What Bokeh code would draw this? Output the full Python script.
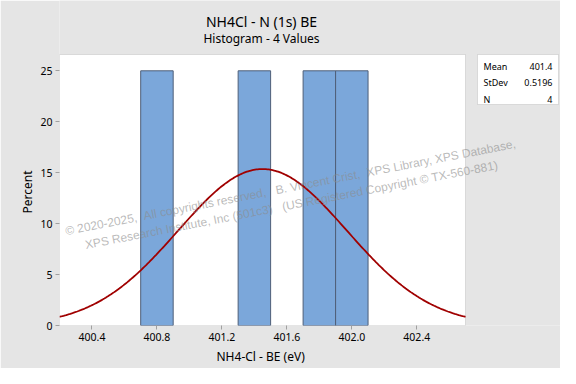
import numpy as np
from bokeh.plotting import figure
from bokeh.models import Range1d, FixedTicker, Label, BoxAnnotation, Title
from bokeh.embed import file_html
from bokeh.resources import INLINE

# ---- data ----
bin_left = [400.7, 401.3, 401.7, 401.9]
bin_right = [400.9, 401.5, 401.9, 402.1]
percent = [25, 25, 25, 25]
mean_val = 401.45
sd_val = 0.5196
n_val = 4
bin_width = 0.2
x_lo, x_hi = 400.2, 402.7
y_lo, y_hi = 0.0, 26.6
x_ticks = [400.4, 400.8, 401.2, 401.6, 402.0, 402.4]
x_tick_labels = ["400.4", "400.8", "401.2", "401.6", "402.0", "402.4"]
y_ticks = [0, 5, 10, 15, 20, 25]
stats_names = ["Mean", "StDev", "N"]
stats_values = ["401.4", "0.5196", "4"]

FONT = "Noto Sans"
GRAY = "#a0a0a0"
BG = "#e5e5e5"
NB = "\u00a0"
W, H = 560, 368
FL, FR, FT, FB = 59, 465, 54, 325   # plot-area edges in page pixels

# the frame spans from the plot area's left/bottom edges to the figure's top/right edges
px_per_x = (FR - FL) / (x_hi - x_lo)
px_per_y = (FB - FT) / (y_hi - y_lo)
x_end = x_lo + (W - FL) / px_per_x
y_end = y_lo + FB / px_per_y

p = figure(width=W, height=H, output_backend="svg", toolbar_location=None, title=None,
           x_range=Range1d(x_lo, x_end), y_range=Range1d(y_lo, y_end),
           min_border_left=FL, min_border_right=0, min_border_top=0, min_border_bottom=H - FB,
           background_fill_color=BG, border_fill_color=BG)
p.outline_line_color = None
p.xgrid.visible = False
p.ygrid.visible = False

# white plot area
p.add_layout(BoxAnnotation(left=x_lo, right=x_hi, bottom=y_lo, top=y_hi, level="underlay",
                           fill_color="white", fill_alpha=1, line_color=GRAY, line_width=1))

p.quad(left=bin_left, right=bin_right, top=percent, bottom=0,
       fill_color="#7ba7da", line_color="#4f5f78", line_width=1)

xs = np.linspace(x_lo, x_hi, 300)
ys = 100 * bin_width / (sd_val * np.sqrt(2 * np.pi)) * np.exp(-0.5 * ((xs - mean_val) / sd_val) ** 2)
p.line(xs, ys, line_color="#a00000", line_width=1.8)

for ax in (p.xaxis[0], p.yaxis[0]):
    ax.axis_line_color = None
    ax.major_tick_line_color = GRAY
    ax.major_tick_out = 4
    ax.major_tick_in = 0
    ax.minor_tick_line_color = None
    ax.major_label_text_font = FONT
    ax.major_label_text_font_size = "10.5px"
    ax.major_label_text_color = "black"
    ax.major_label_standoff = 3

p.xaxis.ticker = FixedTicker(ticks=x_ticks)
p.xaxis.major_label_overrides = dict(zip(x_ticks, x_tick_labels))
p.yaxis.ticker = FixedTicker(ticks=y_ticks)

# axis titles, positioned along the plot area (not the extended frame)
x_label = "NH4-Cl - BE (eV)"
y_label = "Percent"
p.add_layout(Title(text=x_label, align="left", offset=216 - FL, standoff=4,
                   text_font=FONT, text_font_size="12px", text_font_style="normal",
                   text_color="black"), "below")
p.add_layout(Title(text=y_label, align="left", offset=FB - 213, standoff=4,
                   text_font=FONT, text_font_size="12px", text_font_style="normal",
                   text_color="black"), "left")


def lab(px, py, text, size, align="center", font=FONT, color="black", angle=0.0, alpha=1.0):
    # screen units: measured from the frame's bottom-left corner, y upwards
    p.add_layout(Label(x=px - FL, y=FB - py, x_units="screen", y_units="screen", text=text,
                       angle=angle, text_font=font, text_font_size=size, text_align=align,
                       text_baseline="middle", text_color=color, text_alpha=alpha))


# titles
lab(261, 21, "NH4Cl - N (1s) BE", "14px")
lab(261, 38, "Histogram - 4 Values", "12px")

# stats box
p.add_layout(BoxAnnotation(left=477 - FL, right=558 - FL, top=FB - 54, bottom=FB - 104,
                           left_units="screen", right_units="screen",
                           top_units="screen", bottom_units="screen",
                           fill_color="white", fill_alpha=1, line_color=GRAY, line_width=1))
rows_y = [65.5, 82, 98.5]
for name, val, yy in zip(stats_names, stats_values, rows_y):
    lab(483, yy, name, "9px", align="left")
    lab(552, yy, val, "9px", align="right")

# watermark
wm1 = f"\u00a9 2020-2025,{NB}{NB}All copyrights reserved,{NB}{NB}{NB}B. Vincent Crist,{NB}{NB}XPS Library, XPS Database,"
wm2 = f"XPS Research Institute, Inc (501c3){NB}{NB}{NB}(US Registered Copyright \u00a9 TX-560-881)"
ang = np.deg2rad(11)
lab(290, 187, wm1, "12px", font="Liberation Sans", color="#8c8c8c", angle=ang, alpha=0.6)
lab(291, 204.5, wm2, "12px", font="Liberation Sans", color="#8c8c8c", angle=ang, alpha=0.6)

open("out.html", "w").write(file_html(p, INLINE))
